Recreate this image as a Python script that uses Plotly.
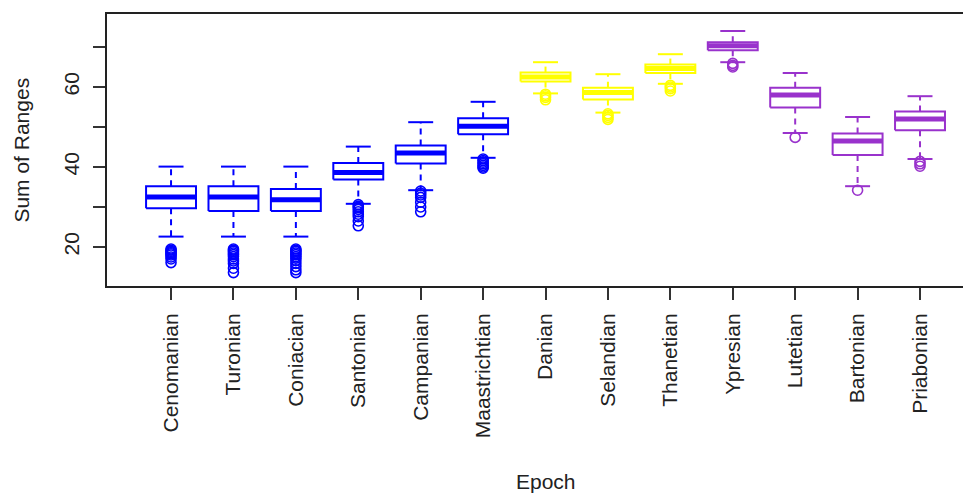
import plotly.graph_objects as go

# ---- data ----
epochs = ["Cenomanian", "Turonian", "Coniacian", "Santonian", "Campanian",
          "Maastrichtian", "Danian", "Selandian", "Thanetian", "Ypresian",
          "Lutetian", "Bartonian", "Priabonian"]
colors = ["#0000FF"] * 6 + ["#FFFF00"] * 3 + ["#9932CC"] * 4

upper_whisker = [40.1, 40.1, 40.1, 45.1, 51.2, 56.3, 66.2, 63.2, 68.2, 74.0, 63.5, 52.5, 57.7]
q3 = [35.2, 35.2, 34.5, 41.0, 45.4, 52.2, 63.6, 59.8, 65.6, 71.2, 59.8, 48.4, 53.9]
median = [32.5, 32.5, 31.8, 38.6, 43.5, 50.2, 62.5, 58.6, 64.6, 70.3, 58.0, 46.5, 52.0]
q1 = [29.7, 29.0, 29.0, 36.9, 40.9, 48.2, 61.4, 56.9, 63.5, 69.2, 54.9, 43.0, 49.2]
lower_whisker = [22.6, 22.6, 22.6, 30.8, 34.2, 42.3, 58.4, 53.6, 60.8, 66.2, 48.5, 35.2, 42.0]
outliers = [
    [19.5, 19.2, 18.9, 18.6, 18.3, 18.0, 17.5, 17.0, 16.1],
    [19.5, 19.2, 18.9, 18.5, 18.1, 17.6, 17.0, 16.5, 15.9, 14.7, 13.6],
    [19.5, 19.2, 18.9, 18.5, 18.1, 17.6, 17.2, 16.6, 15.9, 15.1, 14.3, 13.6],
    [30.6, 30.2, 29.9, 29.4, 28.8, 28.2, 27.6, 26.5, 25.3],
    [34.0, 33.5, 33.0, 32.4, 31.2, 30.0, 28.8],
    [42.0, 41.6, 41.2, 40.8, 40.4, 40.0, 39.7],
    [58.2, 57.8, 57.4, 56.8],
    [53.3, 52.9, 52.4, 51.9],
    [60.4, 60.0, 59.6, 59.0],
    [65.9, 65.4, 65.0],
    [47.4],
    [34.2],
    [41.4, 40.8, 40.2],
]
ytick_vals = [20, 30, 40, 50, 60, 70]
ytick_text = ["20", "", "40", "", "60", ""]

FONT = "Liberation Sans, Arial, sans-serif"
BOX_HALF = 0.4
CAP_HALF = 0.2

fig = go.Figure()
for i, name in enumerate(epochs):
    x = i + 1
    c = colors[i]
    # dashed whiskers
    fig.add_trace(go.Scatter(
        x=[x, x, None, x, x],
        y=[q3[i], upper_whisker[i], None, q1[i], lower_whisker[i]],
        mode="lines", line=dict(color=c, width=2, dash="6px,5px"),
        hoverinfo="skip", showlegend=False))
    # caps
    fig.add_trace(go.Scatter(
        x=[x - CAP_HALF, x + CAP_HALF, None, x - CAP_HALF, x + CAP_HALF],
        y=[upper_whisker[i], upper_whisker[i], None, lower_whisker[i], lower_whisker[i]],
        mode="lines", line=dict(color=c, width=2),
        hoverinfo="skip", showlegend=False))
    # box
    fig.add_trace(go.Scatter(
        x=[x - BOX_HALF, x + BOX_HALF, x + BOX_HALF, x - BOX_HALF, x - BOX_HALF],
        y=[q1[i], q1[i], q3[i], q3[i], q1[i]],
        mode="lines", line=dict(color=c, width=2), fill="toself",
        fillcolor="white", hoverinfo="skip", showlegend=False))
    # median
    fig.add_trace(go.Scatter(
        x=[x - BOX_HALF, x + BOX_HALF], y=[median[i], median[i]],
        mode="lines", line=dict(color=c, width=5),
        name=name, showlegend=False))
    # outliers
    fig.add_trace(go.Scatter(
        x=[x] * len(outliers[i]), y=outliers[i], mode="markers",
        marker=dict(symbol="circle-open", size=10, color=c,
                    line=dict(width=1.6, color=c)),
        showlegend=False))

axis_common = dict(showline=True, linecolor="#222", linewidth=2, ticks="outside",
                   ticklen=12, tickwidth=1.5, tickcolor="#333", showgrid=False,
                   zeroline=False, tickfont=dict(family=FONT, size=21, color="#222"))

fig.update_layout(
    width=963, height=486,
    margin=dict(l=99, r=0, t=6, b=208),
    paper_bgcolor="white", plot_bgcolor="white",
    font=dict(family=FONT, size=21, color="#222"),
    xaxis=dict(range=[-0.026, 13.817], tickvals=list(range(1, len(epochs) + 1)),
               ticktext=epochs, tickangle=-90, mirror=True,
               ticklabelstandoff=5, **axis_common),
    yaxis=dict(range=[10.25, 78.25], tickvals=ytick_vals, ticktext=ytick_text,
               tickangle=-90, ticklabelstandoff=6, **axis_common),
    annotations=[
        dict(text="Epoch", xref="x", x=7, yref="paper", y=-0.717,
             xanchor="center", yanchor="middle", showarrow=False,
             font=dict(family=FONT, size=21, color="#222")),
        dict(text="Sum of Ranges", xref="paper", x=-0.1, yref="y", y=44.25,
             xanchor="center", yanchor="middle", textangle=-90, showarrow=False,
             font=dict(family=FONT, size=21, color="#222")),
    ],
)

fig.write_html("out.html")
